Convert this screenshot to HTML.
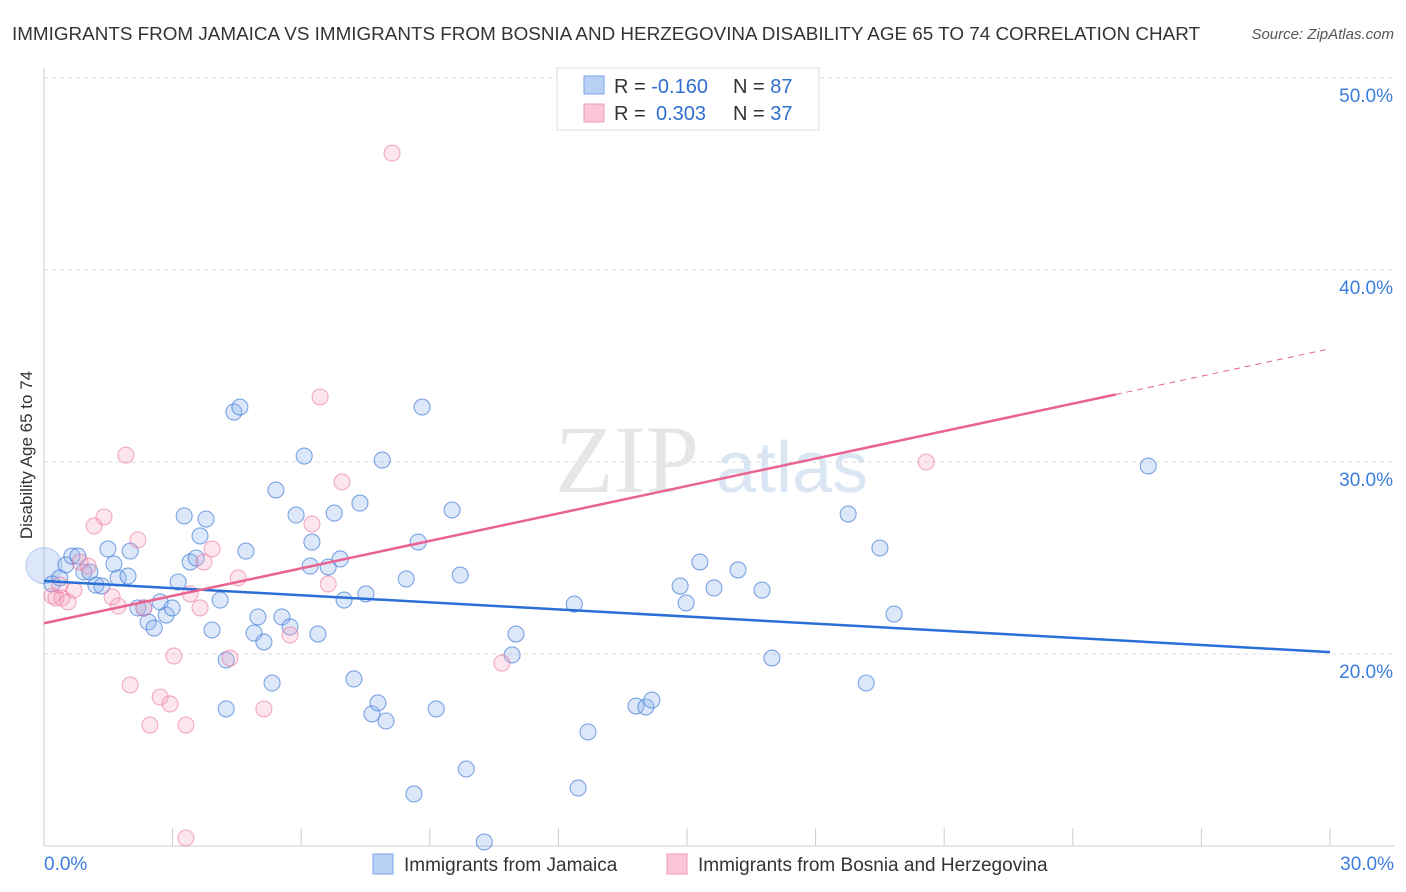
<!DOCTYPE html>
<html><head><meta charset="utf-8"><style>
body{margin:0;background:#fff;font-family:"Liberation Sans",sans-serif;}
svg{display:block}
</style></head><body>
<svg id="c" width="1406" height="892" xmlns="http://www.w3.org/2000/svg">
<text x="12" y="40" font-size="18" fill="#333" textLength="1188" lengthAdjust="spacingAndGlyphs">IMMIGRANTS FROM JAMAICA VS IMMIGRANTS FROM BOSNIA AND HERZEGOVINA DISABILITY AGE 65 TO 74 CORRELATION CHART</text>
<text x="1394" y="39" font-size="15" fill="#555" font-style="italic" text-anchor="end">Source: ZipAtlas.com</text>
<text x="32" y="455" font-size="17" fill="#333" text-anchor="middle" transform="rotate(-90 32 455)">Disability Age 65 to 74</text>
<text x="555" y="492" font-size="96" fill="#e6e6e6" font-family="Liberation Serif,serif">ZIP</text>
<text x="716" y="492" font-size="72" fill="#dbe6f4">atlas</text>
<g id="grid"></g><g id="pts"></g><g id="lines"></g>
<g>
<rect x="557" y="68" width="262" height="62" fill="#fff" stroke="#ddd"/>
<rect x="584" y="76" width="20" height="18" fill="#b8d0f4" stroke="#7aa6e6"/>
<rect x="584" y="104" width="20" height="18" fill="#fbc6d6" stroke="#f09ab5"/>
<text x="614" y="93" font-size="20" fill="#333">R = <tspan fill="#2f6fd0">-0.160</tspan><tspan x="733">N = </tspan><tspan fill="#2f6fd0">87</tspan></text>
<text x="614" y="120" font-size="20" fill="#333">R = <tspan fill="#2f6fd0" x="656">0.303</tspan><tspan x="733">N = </tspan><tspan fill="#2f6fd0">37</tspan></text>
</g>
<g>
<rect x="373" y="854" width="20" height="20" fill="#b8d0f4" stroke="#7aa6e6"/>
<text x="404" y="871" font-size="19" fill="#333">Immigrants from Jamaica</text>
<rect x="667" y="854" width="20" height="20" fill="#fbc6d6" stroke="#f09ab5"/>
<text x="698" y="871" font-size="19" fill="#333">Immigrants from Bosnia and Herzegovina</text>
</g>
</svg>
<script>
const blueX=[0.19,0.37,0.51,0.65,0.79,0.93,1.07,1.21,1.35,1.49,1.63,1.73,1.96,2.01,2.19,2.33,2.43,2.57,2.71,2.85,2.99,3.13,3.27,3.41,3.55,3.64,3.78,3.92,4.11,4.25,4.25,4.43,4.57,4.71,4.90,4.99,5.13,5.32,5.41,5.55,5.74,5.88,6.07,6.21,6.25,6.39,6.63,6.77,6.91,7.00,7.23,7.37,7.51,7.65,7.79,7.89,7.98,8.45,8.63,8.73,8.82,9.15,9.52,9.71,9.85,10.27,10.92,11.01,12.37,12.46,12.69,13.81,14.04,14.18,14.84,14.98,15.30,15.63,16.19,16.75,16.98,18.76,19.18,19.50,19.83,25.76];
const blueY=[23.65,23.96,24.64,25.10,25.10,24.27,24.27,23.59,23.54,25.47,24.69,23.96,24.06,25.36,22.40,22.40,21.67,21.35,22.71,22.03,22.40,23.75,27.19,24.79,25.0,26.15,27.03,21.25,22.81,19.69,17.14,32.60,32.86,25.36,21.09,21.93,20.63,18.49,28.54,21.93,21.41,27.24,30.31,24.58,25.83,21.04,24.53,27.34,24.95,22.81,18.70,27.86,23.13,16.88,17.45,30.10,16.51,23.91,12.71,25.83,32.86,17.14,27.50,24.11,14.01,10.21,19.95,21.04,22.60,13.02,15.94,17.29,17.24,17.60,23.54,22.66,24.79,23.44,24.38,23.33,19.79,27.29,18.49,25.52,22.08,29.79];
const pinkX=[0.19,0.28,0.42,0.56,0.70,1.03,1.17,1.40,1.59,1.73,1.91,2.01,2.19,2.33,2.47,2.71,2.94,3.03,3.31,3.31,3.41,3.64,3.73,3.92,4.34,4.53,5.13,5.74,6.25,6.44,6.63,6.95,8.12,10.68,20.58,0.37,0.84];
const pinkY=[23.02,22.92,22.92,22.71,23.33,24.58,26.67,27.14,22.97,22.50,30.36,18.39,25.94,22.40,16.30,17.76,17.40,19.90,16.30,10.42,23.13,22.40,24.79,25.47,19.79,23.96,17.14,20.99,26.77,33.39,23.65,28.96,46.09,19.53,30.0,23.59,24.79];
const blueTrend=[23.8,20.1];
const pinkTrend=[21.6,35.9];
const pinkSolidEnd=25;
const yTicks=[20,30,40,50];
const xTickLabels=["0.0%","30.0%"];
const NS="http://www.w3.org/2000/svg";
const sx=v=>44+v/30*1286, sy=v=>1038-v*19.2;
function mk(p,t,a){const e=document.createElementNS(NS,t);for(const k in a)e.setAttribute(k,a[k]);p.appendChild(e);return e;}
const grid=document.getElementById('grid'),pts=document.getElementById('pts'),lines=document.getElementById('lines');
mk(grid,'line',{x1:44,y1:68,x2:44,y2:846,stroke:'#ccc'});
mk(grid,'line',{x1:44,y1:846,x2:1394,y2:846,stroke:'#ccc'});
for(let i=1;i<=10;i++){const x=44+i*128.6;mk(grid,'line',{x1:x,y1:828,x2:x,y2:846,stroke:'#ccc'});}
yTicks.forEach(v=>{
 const l=mk(grid,'line',{x1:44,y1:sy(v),x2:1394,y2:sy(v),stroke:'#ddd','stroke-dasharray':'4,4'});
 
 
 const t=mk(grid,'text',{x:1393,y:sy(v)+24,'font-size':19,fill:'#3b7ddd','text-anchor':'end'});
 t.textContent=v.toFixed(1)+'%';
 
 
});
const t0=mk(grid,'text',{x:44,y:870,'font-size':19,fill:'#3b7ddd'});t0.textContent=xTickLabels[0];


const t1=mk(grid,'text',{x:1394,y:870,'font-size':19,fill:'#3b7ddd','text-anchor':'end'});t1.textContent=xTickLabels[1];


const big=mk(pts,'circle',{cx:sx(0),cy:sy(24.6),r:18,fill:'rgba(140,180,235,0.3)',stroke:'rgba(90,140,220,0.4)'});


blueX.forEach((x,i)=>{const c=mk(pts,'circle',{cx:sx(x),cy:sy(blueY[i]),r:8,fill:'rgba(140,180,235,0.3)',stroke:'rgba(60,120,215,0.65)','stroke-width':1.1});
 
 });
pinkX.forEach((x,i)=>{const c=mk(pts,'circle',{cx:sx(x),cy:sy(pinkY[i]),r:8,fill:'rgba(245,160,190,0.28)',stroke:'rgba(235,120,160,0.6)','stroke-width':1.1});
 
 });
const bl=mk(lines,'line',{x1:sx(0),y1:sy(blueTrend[0]),x2:sx(30),y2:sy(blueTrend[1]),stroke:'#2a6fd6','stroke-width':2.5});


const pf=v=>pinkTrend[0]+(pinkTrend[1]-pinkTrend[0])*v/30;
const pl=mk(lines,'line',{x1:sx(0),y1:sy(pf(0)),x2:sx(pinkSolidEnd),y2:sy(pf(pinkSolidEnd)),stroke:'#e8638f','stroke-width':2.5});


const pd=mk(lines,'line',{x1:sx(pinkSolidEnd),y1:sy(pf(pinkSolidEnd)),x2:sx(29.9),y2:sy(pf(29.9)),stroke:'#e8638f','stroke-width':1,'stroke-dasharray':'6,5'});


</script>
</body></html>
